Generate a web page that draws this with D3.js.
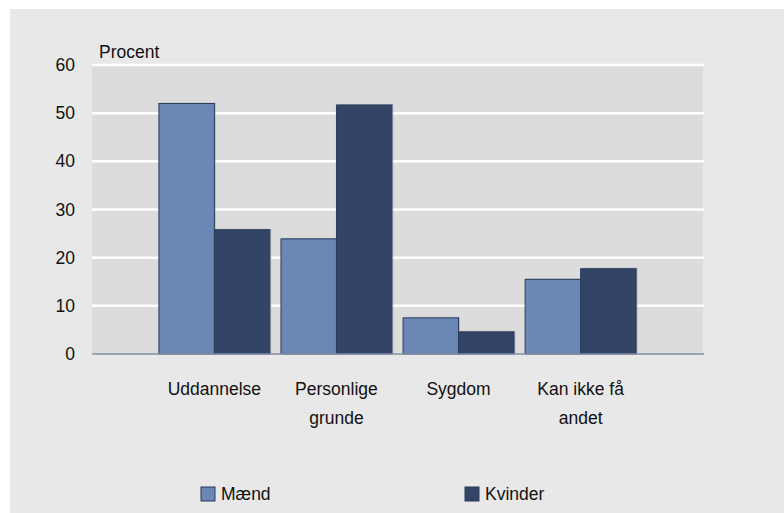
<!DOCTYPE html>
<html lang="da">
<head>
    <meta charset="UTF-8">
    <title>Procent efter grund</title>
    <script src="https://cdn.jsdelivr.net/npm/d3@7"></script>
    <style>
        html, body {
            margin: 0;
            padding: 0;
            background: #ffffff;
        }
        svg {
            display: block;
            font-family: "Liberation Sans", Arial, sans-serif;
        }
        .tick text, .label {
            font-size: 17.5px;
            fill: #111;
        }
    </style>
</head>
<body>
    <svg id="chart" width="784" height="513"></svg>

    <script>
        // data
        var categories = [["Uddannelse"], ["Personlige", "grunde"], ["Sygdom"], ["Kan ikke få", "andet"]];
        var series = ["Mænd", "Kvinder"];
        var maend = [52.0, 23.9, 7.5, 15.5];
        var kvinder = [25.8, 51.7, 4.6, 17.7];
        var yTicks = [0, 10, 20, 30, 40, 50, 60];

        var colors = {"Mænd": "#6b87b5", "Kvinder": "#334566"};
        var strokeCol = "#2b3b5a";

        var margin = {top: 65, left: 92, right: 81, bottom: 159},
            width = 784 - margin.left - margin.right,
            height = 513 - margin.top - margin.bottom;

        var svg = d3.select("#chart");

        // outer grey panel
        svg.append("rect")
            .attr("x", 10).attr("y", 9)
            .attr("width", 774).attr("height", 504)
            .attr("fill", "#e8e8e8");

        var g = svg.append("g")
            .attr("transform", "translate(" + margin.left + "," + margin.top + ")");

        var keys = categories.map(function(c) { return c.join(" "); });

        var x0 = d3.scaleBand().domain(keys).range([0, width])
            .paddingInner(0.091).paddingOuter(0.548);
        var x1 = d3.scaleBand().domain(series).range([0, x0.bandwidth()]);
        var y = d3.scaleLinear().domain([0, 60]).range([height, 0]);

        // plot background
        g.append("rect")
            .attr("width", width).attr("height", height)
            .attr("fill", "#dcdcdc");

        // gridlines
        g.selectAll(".grid")
            .data(yTicks.filter(function(d) { return d > 0; }))
            .enter().append("line")
            .attr("x1", 0).attr("x2", width + 1)
            .attr("y1", function(d) { return y(d); })
            .attr("y2", function(d) { return y(d); })
            .attr("stroke", "#ffffff")
            .attr("stroke-width", 2.5);

        // y axis labels
        var yAxis = g.append("g")
            .call(d3.axisLeft(y).tickValues(yTicks).tickSize(0).tickPadding(17))
            .call(function(a) { a.select(".domain").remove(); });
        yAxis.selectAll("text").attr("font-family", null).attr("font-size", null);

        g.append("text")
            .attr("class", "label")
            .attr("x", 7).attr("y", -7)
            .text("Procent");

        // bars
        var rows = keys.map(function(k, i) {
            return {key: k, values: [{s: "Mænd", v: maend[i]}, {s: "Kvinder", v: kvinder[i]}]};
        });

        var groups = g.selectAll(".grp")
            .data(rows)
            .enter().append("g")
            .attr("transform", function(d) { return "translate(" + x0(d.key) + ",0)"; });

        // faint shadow behind the bars
        groups.selectAll(".shadow")
            .data(function(d) { return d.values; })
            .enter().append("rect")
            .attr("x", function(d) { return x1(d.s) + 1.5; })
            .attr("y", function(d) { return y(d.v) - 1; })
            .attr("width", x1.bandwidth())
            .attr("height", function(d) { return height - y(d.v) + 1; })
            .attr("fill", "#a8acb4")
            .attr("opacity", 0.6);

        groups.selectAll(".bar")
            .data(function(d) { return d.values; })
            .enter().append("rect")
            .attr("x", function(d) { return x1(d.s); })
            .attr("y", function(d) { return y(d.v); })
            .attr("width", x1.bandwidth())
            .attr("height", function(d) { return height - y(d.v); })
            .attr("fill", function(d) { return colors[d.s]; })
            .attr("stroke", strokeCol)
            .attr("stroke-width", 1);

        // zero line
        g.append("line")
            .attr("x1", 0).attr("x2", width + 1)
            .attr("y1", y(0)).attr("y2", y(0))
            .attr("stroke", "#8690a6")
            .attr("stroke-width", 1.5);

        // category labels (may wrap over two lines)
        var catLabels = g.selectAll(".cat")
            .data(categories)
            .enter().append("text")
            .attr("class", "label")
            .attr("text-anchor", "middle")
            .attr("transform", function(d, i) {
                return "translate(" + (x0(keys[i]) + x0.bandwidth() / 2) + "," + (height + 41) + ")";
            });
        catLabels.selectAll("tspan")
            .data(function(d) { return d; })
            .enter().append("tspan")
            .attr("x", 0)
            .attr("dy", function(d, i) { return i === 0 ? 0 : 29; })
            .text(function(d) { return d; });

        // legend
        var legendX = [201, 465];
        var legend = svg.selectAll(".legend")
            .data(series)
            .enter().append("g")
            .attr("transform", function(d, i) { return "translate(" + legendX[i] + ",487)"; });
        legend.append("rect")
            .attr("width", 14).attr("height", 14)
            .attr("fill", function(d) { return colors[d]; })
            .attr("stroke", strokeCol)
            .attr("stroke-width", 1);
        legend.append("text")
            .attr("class", "label")
            .attr("x", 20).attr("y", 13)
            .text(function(d) { return d; });
    </script>
</body>
</html>
